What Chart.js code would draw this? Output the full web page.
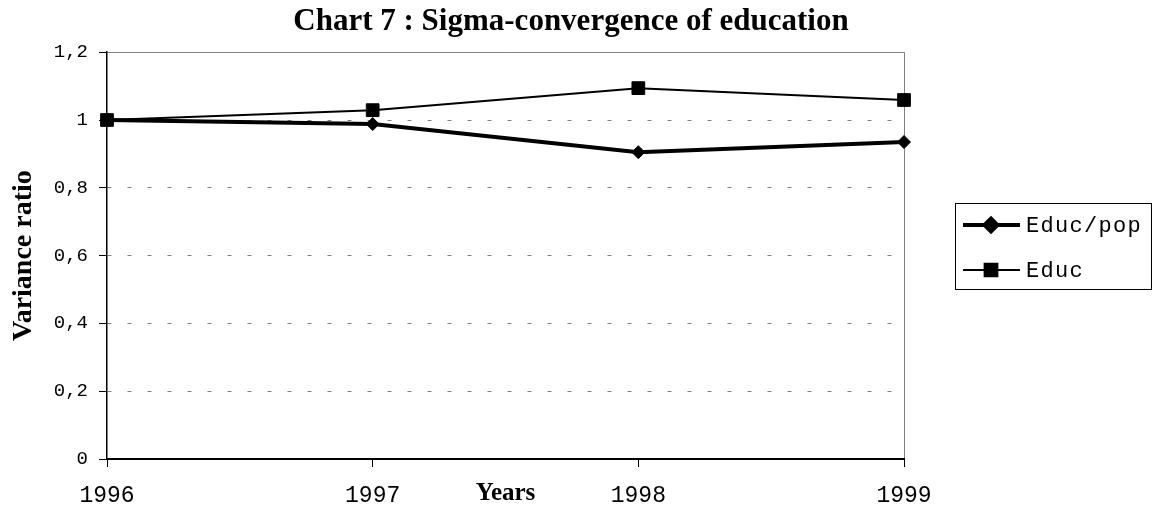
<!DOCTYPE html>
<html>
<head>
<meta charset="utf-8">
<script src="https://cdn.jsdelivr.net/npm/chart.js@4/dist/chart.umd.min.js"></script>
<style>
  html, body { margin: 0; padding: 0; background: #fff; }
  #wrap { width: 1154px; height: 506px; position: relative; }
</style>
</head>
<body>
<div id="wrap"><canvas id="chart"></canvas></div>
<script>
var years = ['1996', '1997', '1998', '1999'];
var educPop = [1, 0.988, 0.905, 0.935];
var educ = [1, 1.029, 1.094, 1.059];
var yTickLabels = ['0', '0,2', '0,4', '0,6', '0,8', '1', '1,2'];

var GREY = '#808080';

// legend with a line sample and marker, framed like the original
var boxLegend = {
    id: 'boxLegend',
    afterDraw: function(chart) {
        var ctx = chart.ctx;
        var left = 955, top = 203, right = 1151, bottom = 289;
        ctx.save();
        ctx.strokeStyle = '#000';
        ctx.lineWidth = 1;
        ctx.strokeRect(left + 0.5, top + 0.5, right - left, bottom - top);

        chart.data.datasets.forEach(function(ds, i) {
            var y = top + 22 + i * 45;
            ctx.beginPath();
            ctx.strokeStyle = ds.borderColor;
            ctx.lineWidth = ds.borderWidth;
            ctx.moveTo(963, y);
            ctx.lineTo(1020, y);
            ctx.stroke();
            Chart.helpers.drawPoint(ctx, {
                pointStyle: ds.pointStyle,
                radius: ds.pointRadius,
                borderWidth: 1,
                rotation: 0
            }, 991, y);
            ctx.fillStyle = '#000';
            ctx.strokeStyle = '#000';
            ctx.fill();

            ctx.font = '22px "Liberation Mono"';
            ctx.letterSpacing = '1.3px';
            ctx.textAlign = 'left';
            ctx.textBaseline = 'middle';
            ctx.fillText(ds.label, 1026, y + 1);
        });
        ctx.restore();
    }
};

var ctx = document.getElementById('chart');
var chart = new Chart(ctx, {
    type: 'line',
    data: {
        labels: years,
        datasets: [
            {
                label: 'Educ/pop',
                data: educPop,
                borderColor: '#000',
                backgroundColor: '#000',
                borderWidth: 4,
                pointStyle: 'rectRot',
                pointRadius: 6.5,
                pointBorderWidth: 1,
                pointBackgroundColor: '#000',
                pointBorderColor: '#000',
                tension: 0,
                fill: false
            },
            {
                label: 'Educ',
                data: educ,
                borderColor: '#000',
                backgroundColor: '#000',
                borderWidth: 2,
                pointStyle: 'rect',
                pointRadius: 9,
                pointBorderWidth: 1,
                pointBackgroundColor: '#000',
                pointBorderColor: '#000',
                tension: 0,
                fill: false
            }
        ]
    },
    options: {
        responsive: true,
        maintainAspectRatio: false,
        animation: false,
        events: [],
        layout: { padding: { left: 0, right: 12, top: 0, bottom: 0 } },
        plugins: {
            legend: { display: false },
            tooltip: { enabled: false },
            title: {
                display: true,
                text: 'Chart 7 : Sigma-convergence of education',
                color: '#000',
                font: { family: 'Liberation Serif', size: 31, weight: 'bold', lineHeight: 1.2 },
                padding: { top: 3, bottom: 12 }
            }
        },
        scales: {
            x: {
                offset: false,
                grid: {
                    display: true,
                    drawOnChartArea: true,
                    color: function(c) { return c.index === years.length - 1 ? GREY : 'rgba(0,0,0,0)'; },
                    tickColor: '#000',
                    tickLength: 8,
                    lineWidth: 1
                },
                border: { display: true, color: '#000', width: 2 },
                ticks: {
                    color: '#000',
                    font: { family: 'Liberation Mono', size: 23, lineHeight: 1 },
                    padding: 17,
                    maxRotation: 0,
                    autoSkip: false
                },
                title: {
                    display: true,
                    text: 'Years',
                    color: '#000',
                    font: { family: 'Liberation Serif', size: 25, weight: 'bold', lineHeight: 1 },
                    padding: { top: 0, bottom: 0 }
                },
                afterFit: function(s) { s.height = 47; }
            },
            y: {
                min: 0,
                max: 1.2,
                ticks: {
                    stepSize: 0.2,
                    color: '#000',
                    font: { family: 'Liberation Mono', size: 19 },
                    padding: 11,
                    callback: function(v, i) { return yTickLabels[i]; }
                },
                grid: {
                    color: function(c) { return c.tick && c.tick.value < 0.01 ? 'rgba(0,0,0,0)' : GREY; },
                    tickColor: '#000',
                    tickLength: 8,
                    lineWidth: 1
                },
                border: {
                    display: true,
                    color: '#000',
                    width: 1.5,
                    dash: function(c) { return c.tick && c.tick.value > 1.19 ? [] : [4, 16]; }
                },
                title: {
                    display: true,
                    text: 'Variance ratio',
                    color: '#000',
                    font: { family: 'Liberation Serif', size: 28, weight: 'bold' },
                    padding: { top: 7, bottom: 0 }
                },
                afterFit: function(s) { s.width = 107; }
            },
            yRight: {
                position: 'right',
                display: true,
                grid: { display: false },
                border: { display: false },
                ticks: { display: false },
                afterFit: function(s) { s.width = 238; }
            }
        }
    },
    plugins: [boxLegend]
});
</script>
</body>
</html>
